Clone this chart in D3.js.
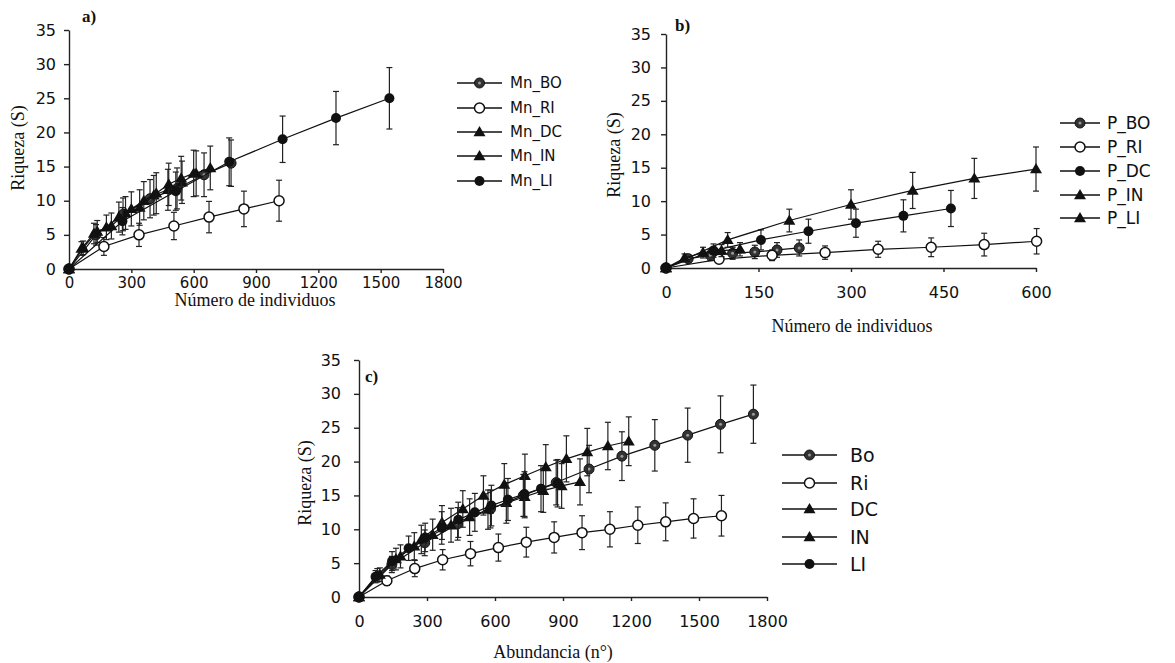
<!DOCTYPE html>
<html><head><meta charset="utf-8">
<script src="https://cdn.jsdelivr.net/npm/d3@7"></script>
<style>
body{margin:0;background:#fff;}
svg{display:block;}
.tick text{font-family:"DejaVu Sans",sans-serif;font-size:16px;fill:#111;}
.domain,.tick line{stroke:#222;stroke-width:1.4;}
.title{font-family:"Liberation Serif",serif;font-size:18px;fill:#111;}
.plab{font-family:"Liberation Serif",serif;font-size:17px;font-weight:bold;fill:#111;}
</style></head><body>
<svg id="c" width="1175" height="663"></svg>
<script>
// ---------- tick labels ----------
const yTicks = [0,5,10,15,20,25,30,35];
const xTicksA = [0,300,600,900,1200,1500,1800];
const xTicksB = [0,150,300,450,600];
const xTicksC = [0,300,600,900,1200,1500,1800];

// ---------- panel a) ----------
const aNames = ["Mn_BO","Mn_RI","Mn_DC","Mn_IN","Mn_LI"];
const aBO_x = [0,130,260,390,520,650,780];
const aBO_y = [0,5.0,8.0,10.3,11.8,13.8,15.5];
const aBO_e = [0,1.5,2.4,2.8,3.0,3.2,3.4];
const aRI_x = [0,168,337,505,674,842,1011];
const aRI_y = [0,3.3,5.0,6.3,7.6,8.8,10.0];
const aRI_e = [0,1.3,1.7,2.0,2.3,2.6,3.0];
const aDC_x = [0,68,136,204,272,340,408,476,544,612,680];
const aDC_y = [0,3.1,5.5,6.3,8.2,9.0,10.8,11.6,12.7,14.0,14.8];
const aDC_e = [0,1.0,1.6,1.9,2.4,2.6,2.9,3.0,3.1,3.3,3.2];
const aIN_x = [0,60,120,180,240,300,360,420,480,540,600];
const aIN_y = [0,3.0,5.2,6.1,7.6,8.8,10.0,11.1,12.4,13.3,14.0];
const aIN_e = [0,1.0,1.5,1.8,2.2,2.5,2.8,3.0,3.1,3.2,3.4];
const aLI_x = [0,257,514,771,1028,1285,1542];
const aLI_y = [0,7.0,11.4,15.7,19.0,22.1,25.0];
const aLI_e = [0,2.0,2.8,3.5,3.4,3.9,4.5];

// ---------- panel b) ----------
const bNames = ["P_BO","P_RI","P_DC","P_IN","P_LI"];
const bBO_x = [0,36,72,108,144,180,216];
const bBO_y = [0,1.4,1.9,2.2,2.4,2.7,3.0];
const bBO_e = [0,0.6,0.8,0.9,1.0,1.1,1.2];
const bRI_x = [0,86,172,258,344,430,516,601];
const bRI_y = [0,1.3,1.9,2.3,2.8,3.1,3.5,4.0];
const bRI_e = [0,0.6,0.8,1.0,1.2,1.4,1.7,1.9];
const bDC_x = [0,77,154,231,308,385,462];
const bDC_y = [0,2.6,4.2,5.5,6.7,7.8,8.9];
const bDC_e = [0,1.0,1.5,1.8,2.1,2.4,2.7];
const bIN_x = [0,100,200,300,400,500,600];
const bIN_y = [0,4.2,7.1,9.5,11.6,13.4,14.8];
const bIN_e = [0,1.1,1.7,2.2,2.7,3.0,3.3];
const bLI_x = [0,30,60,90,120];
const bLI_y = [0,1.5,2.3,2.6,2.8];
const bLI_e = [0,0.6,0.8,0.9,1.0];

// ---------- panel c) ----------
const cNames = ["Bo","Ri","DC","IN","LI"];
const cBO_x = [0,145,290,435,580,725,870,1015,1160,1305,1450,1595,1740];
const cBO_y = [0,4.8,8.0,10.8,13.0,15.0,16.9,18.9,20.8,22.4,23.9,25.5,27.0];
const cBO_e = [0,1.2,1.9,2.4,2.8,3.1,3.3,3.5,3.6,3.8,4.0,4.2,4.3];
const cRI_x = [0,123,246,369,492,615,738,861,984,1107,1230,1353,1476,1599];
const cRI_y = [0,2.4,4.2,5.5,6.4,7.3,8.1,8.8,9.5,10.0,10.6,11.1,11.6,12.0];
const cRI_e = [0,0.7,1.2,1.5,1.8,2.0,2.2,2.3,2.5,2.6,2.7,2.8,2.9,3.0];
const cDC_x = [0,81,163,244,325,406,488,569,650,731,813,894,975];
const cDC_y = [0,3.2,5.6,7.5,9.2,10.6,11.8,12.9,13.9,14.8,15.7,16.4,17.0];
const cDC_e = [0,1.0,1.6,2.0,2.3,2.5,2.7,2.9,3.0,3.1,3.2,3.3,3.4];
const cIN_x = [0,92,183,275,366,458,549,641,732,824,915,1007,1098,1190];
const cIN_y = [0,3.3,6.0,8.5,11.0,13.0,15.0,16.6,17.9,19.2,20.4,21.4,22.3,23.0];
const cIN_e = [0,1.0,1.7,2.1,2.5,2.7,2.9,3.1,3.2,3.3,3.4,3.5,3.5,3.6];
const cLI_x = [0,73,146,219,292,365,438,511,584,657,730,803,876];
const cLI_y = [0,3.0,5.3,7.2,8.8,10.2,11.4,12.5,13.5,14.4,15.2,16.0,16.8];
const cLI_e = [0,0.9,1.4,1.8,2.1,2.4,2.6,2.8,3.0,3.1,3.3,3.4,3.5];

const zip = (xs, ys, es) => xs.map((x,i)=>({x, y: ys[i], e: es[i]}));
const markers = ["half","open","tri","tri","fill"];
const markersB = ["half","open","fill","tri","tri"];

const svg = d3.select("#c");

function drawMarker(g, type, cx, cy) {
  const r = 5;
  if (type === "open") {
    g.append("circle").attr("cx",cx).attr("cy",cy).attr("r",r).attr("fill","#fff").attr("stroke","#111").attr("stroke-width",1.5);
  } else if (type === "fill") {
    g.append("circle").attr("cx",cx).attr("cy",cy).attr("r",r).attr("fill","#111");
  } else if (type === "half") {
    g.append("circle").attr("cx",cx).attr("cy",cy).attr("r",r).attr("fill","#333").attr("stroke","#111").attr("stroke-width",1);
    g.append("circle").attr("cx",cx).attr("cy",cy).attr("r",1.5).attr("fill","#999");
  } else {
    const s = 6;
    g.append("path").attr("d",`M${cx},${cy-s}L${cx+s},${cy+s*0.7}L${cx-s},${cy+s*0.7}Z`).attr("fill","#111");
  }
}

function panel(cfg) {
  const x = d3.scaleLinear().domain([0, cfg.xmax]).range([cfg.x0, cfg.x1]);
  const y = d3.scaleLinear().domain([0, 35]).range([cfg.y0, cfg.y1]);
  const g = svg.append("g");
  const xa = g.append("g").attr("transform",`translate(0,${cfg.y0})`)
    .call(d3.axisBottom(x).tickValues(cfg.xTicks).tickFormat(d3.format("d")).tickSize(4).tickSizeOuter(0).tickPadding(cfg.xpad));
  xa.selectAll(".tick text").style("font-size", cfg.xfs + "px");
  g.append("g").attr("transform",`translate(${cfg.x0},0)`)
    .call(d3.axisLeft(y).tickValues(yTicks).tickFormat(d3.format("d")).tickSize(5).tickSizeOuter(0).tickPadding(cfg.ypad));

  const line = d3.line().x(d=>x(d.x)).y(d=>y(d.y));
  cfg.series.forEach((s, i) => {
    const sg = g.append("g");
    sg.append("path").datum(s).attr("d", line).attr("fill","none").attr("stroke","#111").attr("stroke-width",1.2);
    s.forEach(d => {
      if (d.e > 0) {
        sg.append("line").attr("x1",x(d.x)).attr("x2",x(d.x)).attr("y1",y(d.y+d.e)).attr("y2",y(d.y-d.e)).attr("stroke","#222").attr("stroke-width",1.2);
        [d.y+d.e, d.y-d.e].forEach(v => sg.append("line").attr("x1",x(d.x)-3).attr("x2",x(d.x)+3).attr("y1",y(v)).attr("y2",y(v)).attr("stroke","#222").attr("stroke-width",1.2));
      }
    });
    s.forEach(d => drawMarker(sg, cfg.markers[i], x(d.x), y(d.y)));
  });

  // axis titles
  g.append("text").attr("class","title").attr("text-anchor","middle")
    .attr("transform",`translate(${cfg.ytx},${cfg.yty}) rotate(-90)`).attr("dy","0.35em").text("Riqueza (S)");
  g.append("text").attr("class","title").attr("text-anchor","middle")
    .attr("x",cfg.xtx).attr("y",cfg.xty).text(cfg.xtitle);
  g.append("text").attr("class","plab").attr("x",cfg.plx).attr("y",cfg.ply).text(cfg.plabel);

  // legend
  const lg = g.append("g");
  cfg.names.forEach((n, i) => {
    const yy = cfg.leg.ys[i];
    lg.append("line").attr("x1",cfg.leg.l0).attr("x2",cfg.leg.l1).attr("y1",yy).attr("y2",yy).attr("stroke","#111").attr("stroke-width",1.3);
    drawMarker(lg, cfg.markers[i], (cfg.leg.l0+cfg.leg.l1)/2, yy);
    lg.append("text").attr("x",cfg.leg.tx).attr("y",yy).attr("dy","0.36em")
      .style("font-family","'DejaVu Sans',sans-serif").style("font-size",cfg.leg.fs+"px").attr("fill","#111").text(n);
  });
}

panel({
  xmax:1800, x0:69, x1:443, y0:269, y1:30, xTicks:xTicksA, xpad:4, xfs:15, ypad:8,
  series:[zip(aBO_x,aBO_y,aBO_e),zip(aRI_x,aRI_y,aRI_e),zip(aDC_x,aDC_y,aDC_e),zip(aIN_x,aIN_y,aIN_e),zip(aLI_x,aLI_y,aLI_e)],
  markers: markers, names: aNames,
  ytx:18, yty:148, xtx:255, xty:306, xtitle:"Número de individuos", plx:82, ply:22, plabel:"a)",
  leg:{l0:457,l1:502,tx:510,fs:15,ys:[83,108,132,156,181]}
});
panel({
  xmax:600, x0:666, x1:1036, y0:268, y1:34, xTicks:xTicksB, xpad:15, xfs:16, ypad:10,
  series:[zip(bBO_x,bBO_y,bBO_e),zip(bRI_x,bRI_y,bRI_e),zip(bDC_x,bDC_y,bDC_e),zip(bIN_x,bIN_y,bIN_e),zip(bLI_x,bLI_y,bLI_e)],
  markers: markersB, names: bNames,
  ytx:614, yty:155, xtx:852, xty:332, xtitle:"Número de individuos", plx:675, ply:31, plabel:"b)",
  leg:{l0:1060,l1:1100,tx:1107,fs:17,ys:[123,147,171,195,218]}
});
panel({
  xmax:1800, x0:359, x1:767, y0:597, y1:360, xTicks:xTicksC, xpad:15, xfs:16, ypad:13,
  series:[zip(cBO_x,cBO_y,cBO_e),zip(cRI_x,cRI_y,cRI_e),zip(cDC_x,cDC_y,cDC_e),zip(cIN_x,cIN_y,cIN_e),zip(cLI_x,cLI_y,cLI_e)],
  markers: markers, names: cNames,
  ytx:305, yty:483, xtx:553, xty:658, xtitle:"Abundancia (n°)", plx:365, ply:382, plabel:"c)",
  leg:{l0:782,l1:837,tx:850,fs:19,ys:[455,483,509,537,564]}
});
</script>
</body></html>
